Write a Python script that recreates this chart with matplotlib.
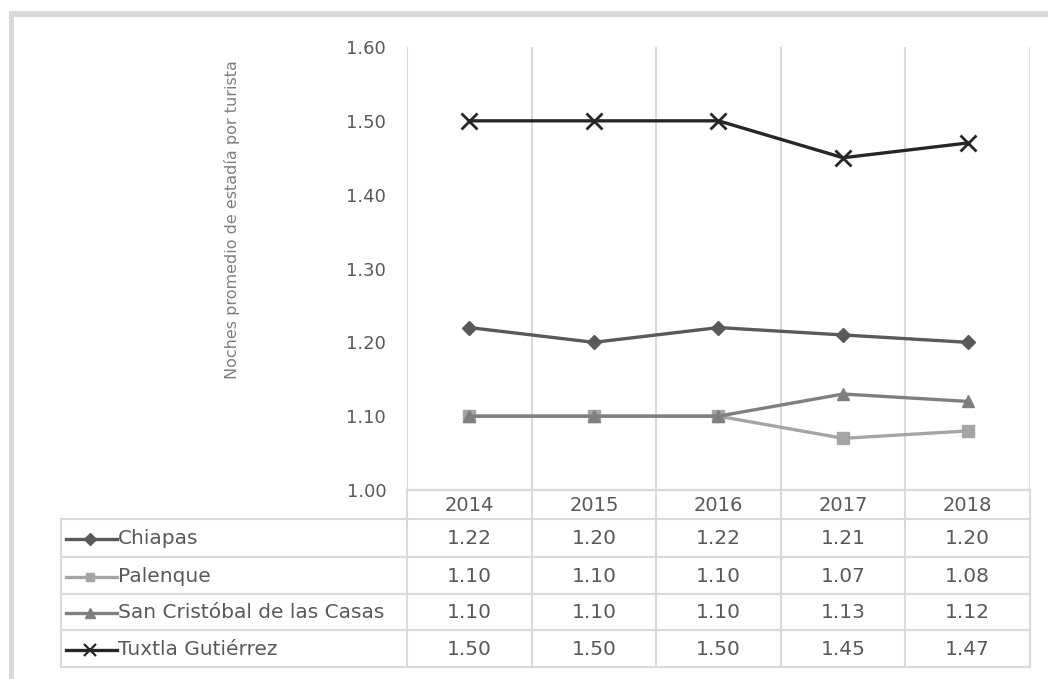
import matplotlib
matplotlib.use("Agg")
import matplotlib.pyplot as plt
from matplotlib.lines import Line2D
from matplotlib.patches import Rectangle

years = ["2014", "2015", "2016", "2017", "2018"]
series_names = ["Chiapas", "Palenque", "San Cristóbal de las Casas", "Tuxtla Gutiérrez"]
chiapas = [1.22, 1.20, 1.22, 1.21, 1.20]
palenque = [1.10, 1.10, 1.10, 1.07, 1.08]
san_cristobal = [1.10, 1.10, 1.10, 1.13, 1.12]
tuxtla = [1.50, 1.50, 1.50, 1.45, 1.47]
y_ticks = [1.00, 1.10, 1.20, 1.30, 1.40, 1.50, 1.60]
y_label = "Noches promedio de estadía por turista"

series = [chiapas, palenque, san_cristobal, tuxtla]
colors = ["#595959", "#a5a5a5", "#7f7f7f", "#262626"]
markers = ["D", "s", "^", "x"]
msizes = [7.5, 8, 9, 11]

W, H = 1048, 679
fig = plt.figure(figsize=(W / 100, H / 100), dpi=100)
plt.rcParams['font.family'] = ['DejaVu Sans']

grid_c = "#d9d9d9"
text_c = "#595959"

# background overlay in pixel coords (frame + table)
bg = fig.add_axes([0, 0, 1, 1])
bg.set_xlim(0, W)
bg.set_ylim(H, 0)
bg.axis("off")
bg.add_patch(Rectangle((9, 11), W - 9, 6, color=grid_c, lw=0))
bg.add_patch(Rectangle((9, 11), 5, H - 11, color=grid_c, lw=0))

x0, x1 = 407, 1030
y_top, y_axis = 47, 490
tab_left = 61
row_lines = [519, 557, 594, 630, 667]
n = len(years)
colw = (x1 - x0) / n

# plot axes
ax = fig.add_axes([x0 / W, 1 - y_axis / H, (x1 - x0) / W, (y_axis - y_top) / H])
ax.set_facecolor("none")
xs = list(range(n))
for vals, c, m, ms in zip(series, colors, markers, msizes):
    ax.plot(xs, vals, color=c, lw=2.4, marker=m, markersize=ms,
            markeredgewidth=2 if m == "x" else 1, markeredgecolor=c, markerfacecolor=c,
            solid_joinstyle="round", zorder=3)
ax.set_xlim(-0.5, n - 0.5)
ax.set_ylim(1.0, 1.6)
ax.set_yticks(y_ticks)
ax.set_yticklabels([f"{v:.2f}" for v in y_ticks], fontsize=13, color=text_c)
ax.tick_params(axis="y", length=0, pad=15)
ax.set_xticks([])
for i in range(n + 1):
    ax.axvline(i - 0.5, color=grid_c, lw=1.5, zorder=1)
for s in ["top", "right", "left"]:
    ax.spines[s].set_visible(False)
ax.spines["bottom"].set_color(grid_c)
ax.spines["bottom"].set_linewidth(1.5)
ax.text(-0.281, 0.61, y_label, transform=ax.transAxes, rotation=90,
        ha="center", va="center", fontsize=11.5, color="#7f7f7f")

# table
for i in range(n + 1):
    xx = x0 + i * colw
    bg.plot([xx, xx], [y_axis, row_lines[-1]], color=grid_c, lw=1.5)
bg.plot([tab_left, tab_left], [row_lines[0], row_lines[-1]], color=grid_c, lw=1.5)
bg.plot([x0, x1], [y_axis, y_axis], color=grid_c, lw=1.5)
for yy in row_lines:
    bg.plot([tab_left, x1], [yy, yy], color=grid_c, lw=1.5)

for i, yr in enumerate(years):
    bg.text(x0 + (i + 0.5) * colw, (y_axis + row_lines[0]) / 2 + 1, yr,
            ha="center", va="center", fontsize=14, color=text_c)

for r, (name, vals, c, m, ms) in enumerate(zip(series_names, series, colors, markers, msizes)):
    yc = (row_lines[r] + row_lines[r + 1]) / 2 + 1
    bg.add_line(Line2D([66, 117], [yc, yc], color=c, lw=2.4))
    bg.add_line(Line2D([90], [yc], color=c, marker=m, markersize=ms * 0.75,
                       markeredgewidth=1.6 if m == "x" else 1,
                       markeredgecolor=c, markerfacecolor=c))
    bg.text(118, yc, name, ha="left", va="center", fontsize=14.5, color=text_c)
    for i, v in enumerate(vals):
        bg.text(x0 + (i + 0.5) * colw, yc, f"{v:.2f}", ha="center", va="center",
                fontsize=14.5, color=text_c)

fig.savefig("out.png", dpi=100)
